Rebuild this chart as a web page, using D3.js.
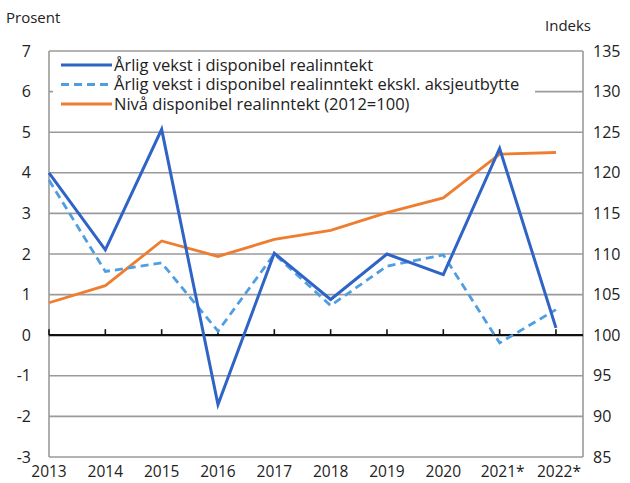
<!DOCTYPE html>
<html>
<head>
<meta charset="utf-8">
<script src="https://cdn.jsdelivr.net/npm/d3@7"></script>
<style>
  body { margin: 0; background: #fff; }
  text { font-family: "Open Sans", sans-serif; fill: #222; }
</style>
</head>
<body>
<div id="chart"></div>
<script>
var years = ['2013', '2014', '2015', '2016', '2017', '2018', '2019', '2020', '2021*', '2022*'];
var vekst = [4.0, 2.1, 5.07, -1.71, 2.02, 0.88, 2.0, 1.49, 4.6, 0.18];
var vekstEkskl = [3.82, 1.57, 1.78, 0.1, 2.0, 0.73, 1.7, 1.98, -0.19, 0.63];
var niva = [104.0, 106.1, 111.6, 109.7, 111.8, 112.9, 115.1, 116.9, 122.3, 122.5];
var leftTicks = [-3, -2, -1, 0, 1, 2, 3, 4, 5, 6, 7];
var rightTicks = [85, 90, 95, 100, 105, 110, 115, 120, 125, 130, 135];
var legendLabels = [
    'Årlig vekst i disponibel realinntekt',
    'Årlig vekst i disponibel realinntekt ekskl. aksjeutbytte',
    'Nivå disponibel realinntekt (2012=100)'
];

var width = 630;
var height = 483;

var margin = {
    top: 51,
    bottom: 25,
    left: 49,
    right: 47,
};

var colours = {
    blue: '#2f63c6',
    light: '#4f9ee2',
    orange: '#ef7d2f',
    grid: '#9a9a9a'
};

var svg = d3.select('#chart')
    .append('svg')
    .attr('width', width)
    .attr('height', height);

var x = d3.scaleLinear()
    .domain([0, 9.48])
    .range([margin.left, width - margin.right]);

var y = d3.scaleLinear()
    .domain([-3, 7])
    .range([height - margin.bottom - 1, margin.top]);

var yRight = d3.scaleLinear()
    .domain([85, 135])
    .range(y.range());

// gridlines
svg.append('g')
    .selectAll('line')
    .data(leftTicks.filter(function(d) { return d !== 0; }))
    .enter()
    .append('line')
    .attr('x1', x(0))
    .attr('x2', x(9.48))
    .attr('y1', function(d) { return y(d); })
    .attr('y2', function(d) { return y(d); })
    .style('stroke', colours.grid)
    .style('stroke-width', '1.6px');

// frame sides
svg.append('g')
    .selectAll('line')
    .data([0, 9.48])
    .enter()
    .append('line')
    .attr('x1', function(d) { return x(d); })
    .attr('x2', function(d) { return x(d); })
    .attr('y1', y(7))
    .attr('y2', y(-3))
    .style('stroke', colours.grid)
    .style('stroke-width', '1.6px');

// legend background covers the upper gridline
var legend = svg.append('g');
legend.append('rect')
    .attr('x', x(0) + 4)
    .attr('y', y(7) + 2)
    .attr('width', 482)
    .attr('height', 64)
    .style('fill', '#fff');

// zero line with ticks
svg.append('line')
    .attr('x1', x(0))
    .attr('x2', x(9.48))
    .attr('y1', y(0))
    .attr('y2', y(0))
    .style('stroke', '#111')
    .style('stroke-width', '2.2px');

svg.append('g')
    .selectAll('line')
    .data(years)
    .enter()
    .append('line')
    .attr('x1', function(d, i) { return x(i); })
    .attr('x2', function(d, i) { return x(i); })
    .attr('y1', y(0))
    .attr('y2', y(0) - 6)
    .style('stroke', '#111')
    .style('stroke-width', '1.6px');

// axis labels
svg.append('g')
    .selectAll('text')
    .data(leftTicks)
    .enter()
    .append('text')
    .attr('x', 31)
    .attr('y', function(d) { return y(d); })
    .attr('dy', '0.35em')
    .attr('text-anchor', 'end')
    .style('font-size', '16px')
    .text(function(d) { return d; });

svg.append('g')
    .selectAll('text')
    .data(rightTicks)
    .enter()
    .append('text')
    .attr('x', 593)
    .attr('y', function(d) { return yRight(d); })
    .attr('dy', '0.35em')
    .style('font-size', '16px')
    .text(function(d) { return d; });

svg.append('g')
    .selectAll('text')
    .data(years)
    .enter()
    .append('text')
    .attr('x', function(d, i) { return x(i) + (d.indexOf('*') > -1 ? 3 : 0); })
    .attr('y', 472)
    .attr('dy', '0.35em')
    .attr('text-anchor', 'middle')
    .style('font-size', '15.5px')
    .text(function(d) { return d; });

svg.append('text')
    .attr('x', 6)
    .attr('y', 18)
    .attr('dy', '0.35em')
    .style('font-size', '15px')
    .text('Prosent');

svg.append('text')
    .attr('x', 545)
    .attr('y', 26)
    .attr('dy', '0.35em')
    .style('font-size', '15px')
    .text('Indeks');

// lines
var lineLeft = d3.line()
    .x(function(d, i) { return x(i); })
    .y(function(d) { return y(d); });

var lineRight = d3.line()
    .x(function(d, i) { return x(i); })
    .y(function(d) { return yRight(d); });

svg.append('path')
    .attr('d', lineRight(niva))
    .style('fill', 'none')
    .style('stroke', colours.orange)
    .style('stroke-width', '2.8px');

svg.append('path')
    .attr('d', lineLeft(vekstEkskl))
    .style('fill', 'none')
    .style('stroke', colours.light)
    .style('stroke-width', '2.8px')
    .style('stroke-dasharray', '8,5');

svg.append('path')
    .attr('d', lineLeft(vekst))
    .style('fill', 'none')
    .style('stroke', colours.blue)
    .style('stroke-width', '3px');

// legend entries
var legendStyles = [
    { colour: colours.blue, dash: null },
    { colour: colours.light, dash: '8,5' },
    { colour: colours.orange, dash: null }
];

var item = legend.selectAll('g.item')
    .data(legendLabels)
    .enter()
    .append('g')
    .attr('class', 'item')
    .attr('transform', function(d, i) { return 'translate(0,' + (65 + i * 19.5) + ')'; });

item.append('line')
    .attr('x1', 61)
    .attr('x2', 112)
    .style('stroke', function(d, i) { return legendStyles[i].colour; })
    .style('stroke-width', '3px')
    .style('stroke-dasharray', function(d, i) { return legendStyles[i].dash; });

item.append('text')
    .attr('x', 114)
    .attr('dy', '0.35em')
    .style('font-size', '16.5px')
    .text(function(d) { return d; });
</script>
</body>
</html>
